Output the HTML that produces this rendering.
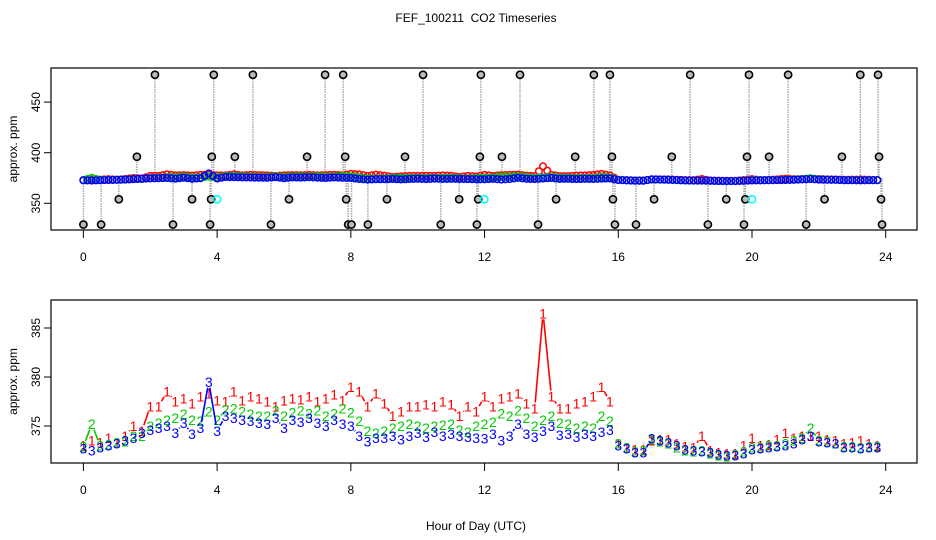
<!DOCTYPE html>
<html><head><meta charset="utf-8"><style>
html,body{margin:0;padding:0;background:#fff;}
svg{display:block;font-family:"Liberation Sans",Arial,sans-serif;}
</style></head><body>
<svg id="chart" width="936" height="540" viewBox="0 0 936 540">
<rect width="936" height="540" fill="#fff"/>
<text x="476" y="22" text-anchor="middle" font-size="12" style="white-space:pre">FEF_100211  CO2 Timeseries</text>
<g id="topPanel"></g>
<g id="botPanel"></g>
<text x="476" y="530" text-anchor="middle" font-size="12">Hour of Day (UTC)</text>
</svg>
<script>
const hours=[0,0.25,0.5,0.75,1,1.25,1.5,1.75,2,2.25,2.5,2.75,3,3.25,3.5,3.75,4,4.25,4.5,4.75,5,5.25,5.5,5.75,6,6.25,6.5,6.75,7,7.25,7.5,7.75,8,8.25,8.5,8.75,9,9.25,9.5,9.75,10,10.25,10.5,10.75,11,11.25,11.5,11.75,12,12.25,12.5,12.75,13,13.25,13.5,13.75,14,14.25,14.5,14.75,15,15.25,15.5,15.75,16,16.25,16.5,16.75,17,17.25,17.5,17.75,18,18.25,18.5,18.75,19,19.25,19.5,19.75,20,20.25,20.5,20.75,21,21.25,21.5,21.75,22,22.25,22.5,22.75,23,23.25,23.5,23.75];
const series1=[373.0,373.5,373.3,373.8,373.3,374.0,375.0,374.5,377.0,377.0,378.5,377.5,377.8,377.3,378.0,378.3,377.6,377.5,378.5,377.6,378.0,377.8,377.5,377.0,377.6,377.8,377.7,378.0,377.5,377.8,378.2,377.6,379.0,378.5,377.0,378.3,377.3,376.0,376.5,377.0,377.0,377.2,377.0,377.5,377.2,376.0,377.0,376.5,378.0,377.0,377.8,378.0,378.3,377.3,376.8,386.5,378.0,376.8,376.8,377.3,377.5,378.0,379.0,377.5,373.2,372.8,372.6,372.6,373.5,373.6,373.6,373.2,372.9,372.8,374.0,372.5,372.3,372.2,372.2,373.0,373.8,373.0,373.1,373.6,374.3,373.8,374.0,374.0,374.0,373.6,373.5,373.2,373.3,373.5,373.2,373.0];
const series2=[372.9,375.2,373.0,373.1,373.3,373.4,374.0,374.0,375.0,375.3,375.6,375.8,376.2,375.6,375.5,376.5,375.6,376.7,376.8,376.5,376.2,376.0,376.0,376.6,376.0,376.4,376.6,376.3,376.6,376.0,376.3,376.8,376.4,375.5,374.5,374.3,374.5,374.8,375.0,375.2,375.0,374.8,375.0,375.1,375.2,374.6,374.4,375.0,375.2,375.4,376.3,376.0,376.6,375.8,375.0,375.6,376.0,375.3,375.2,374.8,375.0,374.8,376.0,375.5,373.2,372.8,372.4,372.5,373.6,373.4,373.2,372.8,372.5,372.4,372.5,372.2,372.0,371.9,372.1,372.4,372.8,372.8,373.0,373.0,373.2,373.5,373.8,374.8,373.5,373.4,373.2,372.9,372.9,372.8,372.9,372.9];
const series3=[372.7,372.5,372.8,373.0,373.2,373.5,373.8,374.3,374.6,374.8,375.0,374.3,375.3,374.2,374.8,379.5,374.5,376.0,375.8,375.6,375.5,375.3,375.2,375.8,374.8,375.6,375.4,375.8,375.3,375.0,375.6,375.2,375.0,374.0,373.4,373.8,373.8,374.0,373.6,374.0,374.3,373.9,374.4,374.0,374.2,374.0,373.9,373.8,373.7,374.2,373.5,374.0,375.2,374.2,373.9,374.5,375.0,374.1,374.2,373.9,374.2,374.0,374.4,374.6,373.0,372.7,372.3,372.3,373.7,373.5,373.3,373.0,372.6,372.5,372.4,372.3,372.1,372.0,372.0,372.2,372.6,372.7,372.8,372.9,373.0,373.2,373.6,374.0,373.4,373.3,373.2,372.8,372.8,372.7,372.8,372.8];
const outlierHours=[2.14,3.90,5.07,7.23,7.77,10.16,11.89,13.06,15.27,15.75,18.15,19.91,21.08,23.24,23.77,
1.60,3.84,4.53,6.69,7.83,9.62,11.86,12.52,14.71,15.81,17.60,19.85,20.51,22.69,23.80,
1.06,3.25,3.82,6.15,7.86,9.08,11.24,11.81,14.14,15.84,17.07,19.23,19.80,22.17,23.86,
0.0,0.53,2.68,3.79,5.61,7.92,8.02,8.51,10.69,11.77,13.60,15.90,16.53,18.68,19.76,21.62,23.89];
const outlierValues=[477,477,477,477,477,477,477,477,477,477,477,477,477,477,477,
396,396,396,396,396,396,396,396,396,396,396,396,396,396,396,
354,354,354,354,354,354,354,354,354,354,354,354,354,354,354,
329,329,329,329,329,329,329,329,329,329,329,329,329,329,329,329,329];
const cyanHours=[4.0,11.99,20.0];
const cyanValues=[354,354,354];
const gapAfterHours=[15.75,19.75];
const xTicks=[0,4,8,12,16,20,24];
const topYTicks=[350,400,450];
const botYTicks=[375,380,385];

const NS='http://www.w3.org/2000/svg';
const X0=51,X1=917;
const xs=h=>83.4+h*33.43;
const ysTop=v=>152.7-(v-400)*1.012;
const ysBot=v=>426-(v-375)*9.8;
function mk(tag,attrs,parent){const e=document.createElementNS(NS,tag);for(const k in attrs)e.setAttribute(k,attrs[k]);parent.appendChild(e);return e;}

function axes(g,y0,y1,ys,yticks,prefix){
  let b=mk('rect',{x:X0,y:y0,width:X1-X0,height:y1-y0,fill:'none',stroke:'#000','stroke-width':1.2},g);
  
  
  xTicks.forEach(t=>{
    let l=mk('line',{x1:xs(t),x2:xs(t),y1:y1,y2:y1+8,stroke:'#000'},g);
    
    
    let tx=mk('text',{x:xs(t),y:y1+31,'text-anchor':'middle','font-size':12},g);
    tx.textContent=t;
    
    
  });
  yticks.forEach(t=>{
    let y=ys(t);
    let l=mk('line',{x1:X0,x2:X0-7,y1:y,y2:y,stroke:'#000'},g);
    
    
    let tx=mk('text',{x:0,y:0,'text-anchor':'middle','font-size':12,transform:`translate(40,${y}) rotate(-90)`},g);
    tx.textContent=t;
    
    
  });
  let yl=mk('text',{x:0,y:0,'text-anchor':'middle','font-size':12,transform:`translate(17,${(y0+y1)/2}) rotate(-90)`},g);
  yl.textContent='approx. ppm';
  
  
}

// top panel
const topG=document.getElementById('topPanel');
axes(topG,68,230,ysTop,topYTicks,'top');
outlierHours.forEach((h,i)=>{
  let l=mk('line',{x1:xs(h),x2:xs(h),y1:ysTop(375),y2:ysTop(outlierValues[i]),stroke:'#aaa','stroke-width':1.5,'stroke-dasharray':'1.5,1'},topG);
  
  
});
[[series1,'#f00'],[series2,'#0c0'],[series3,'#00f']].forEach(([s,c],k)=>{
  s.forEach((v,i)=>{
    let ci=mk('circle',{cx:xs(hours[i]),cy:ysTop(v),r:3.3,fill:'none',stroke:c,'stroke-width':1.5},topG);
    
    
    if(i<s.length-1){
      let ci2=mk('circle',{cx:(xs(hours[i])+xs(hours[i+1]))/2,cy:ysTop((v+s[i+1])/2),r:3.3,fill:'none',stroke:c,'stroke-width':1.5},topG);
      
      
    }
  });
});
outlierHours.forEach((h,i)=>{
  let c=mk('circle',{cx:xs(h),cy:ysTop(outlierValues[i]),r:3.6,fill:'#bbb',stroke:'#000','stroke-width':1.6},topG);
  
  
});
cyanHours.forEach((h,i)=>{
  let c=mk('circle',{cx:xs(h),cy:ysTop(cyanValues[i]),r:3.6,fill:'none',stroke:'#0ff','stroke-width':1.6},topG);
  
  
});

// bottom panel
const botG=document.getElementById('botPanel');
axes(botG,300,463,ysBot,botYTicks,'bottom');
[[series1,'#f00','1'],[series2,'#0c0','2'],[series3,'#00f','3']].forEach(([s,c,lab],k)=>{
  for(let i=0;i<s.length-1;i++){
    if(gapAfterHours.includes(hours[i])) continue;
    const xa=xs(hours[i]),ya=ysBot(s[i]),xb=xs(hours[i+1]),yb=ysBot(s[i+1]);
    const d=Math.hypot(xb-xa,yb-ya),g=6;
    if(d>2*g){
      const ux=(xb-xa)/d,uy=(yb-ya)/d;
      let l=mk('line',{x1:xa+ux*g,y1:ya+uy*g,x2:xb-ux*g,y2:yb-uy*g,stroke:c,'stroke-width':1.6},botG);
      
      
    }
  }
  s.forEach((v,i)=>{
    let t=mk('text',{x:xs(hours[i]),y:ysBot(v)+5,'text-anchor':'middle','font-size':14,fill:c},botG);
    t.textContent=lab;
    
    
  });
});
</script>
</body></html>
